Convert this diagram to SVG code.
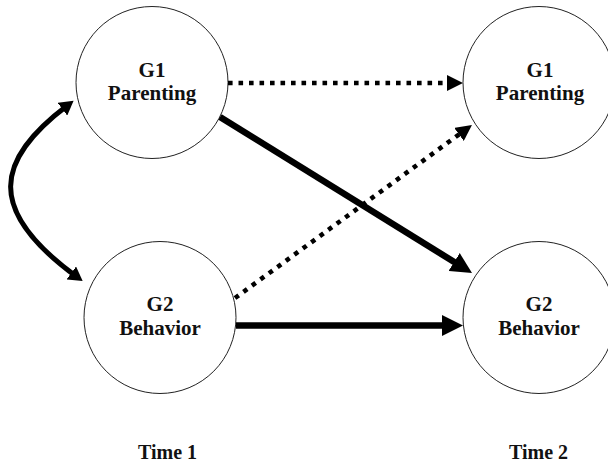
<svg xmlns="http://www.w3.org/2000/svg" width="608" height="463" viewBox="0 0 608 463">
<style>
.node circle{fill:#fff;stroke:#222;stroke-width:1}
.node text,.label{font-family:"Liberation Serif","Times New Roman",serif;font-weight:bold;font-size:21px;text-anchor:middle;fill:#111}
.label{font-size:20px}
.solid{fill:none;stroke:#000;stroke-width:6.5}
.dotted{fill:none;stroke:#000;stroke-width:4.6;stroke-dasharray:4.6 5.9}
.curve{fill:none;stroke:#000;stroke-width:5}
</style>
<defs>
<marker id="big" markerUnits="userSpaceOnUse" markerWidth="22" markerHeight="22" refX="10.5" refY="10.5" orient="auto" viewBox="0 0 22 21">
<path d="M0,0 L21,10.5 L0,21 Z" fill="#000"/>
</marker>
<marker id="small" markerUnits="userSpaceOnUse" markerWidth="17" markerHeight="16" refX="8" refY="8" orient="auto" viewBox="0 0 17 16">
<path d="M0,0 L16,8 L0,16 Z" fill="#000"/>
</marker>
<marker id="cv" markerUnits="userSpaceOnUse" markerWidth="15" markerHeight="16" refX="7" refY="8" orient="auto-start-reverse" viewBox="0 0 15 16">
<path d="M0,0 L14,8 L0,16 Z" fill="#000"/>
</marker>
</defs>
<g id="n1" class="node">
<circle cx="152" cy="82.5" r="76"/>
<text x="152" y="77">G1</text>
<text x="152" y="100">Parenting</text>
</g>
<g id="n2" class="node">
<circle cx="539" cy="82.5" r="76"/>
<text x="540" y="77">G1</text>
<text x="540" y="100">Parenting</text>
</g>
<g id="n3" class="node">
<circle cx="160" cy="317.5" r="76"/>
<text x="160" y="311">G2</text>
<text x="160" y="335">Behavior</text>
</g>
<g id="n4" class="node">
<circle cx="539" cy="317.5" r="76"/>
<text x="539" y="311">G2</text>
<text x="539" y="335">Behavior</text>
</g>
<g id="connectors">
<path class="dotted" d="M228,83 L455,83" marker-end="url(#small)"/>
<path class="dotted" d="M235,298 L465.5,129.7" marker-end="url(#small)"/>
<path class="solid" d="M220,117 L463.1,267.5" marker-end="url(#big)"/>
<path class="solid" d="M236,325.5 L452.5,325.5" marker-end="url(#big)"/>
<path class="curve" d="M68,105 C-5,160 -15,210 77,277" marker-start="url(#cv)" marker-end="url(#cv)"/>
</g>
<text class="label" x="167.5" y="459">Time 1</text>
<text class="label" x="538.5" y="459">Time 2</text>
</svg>
